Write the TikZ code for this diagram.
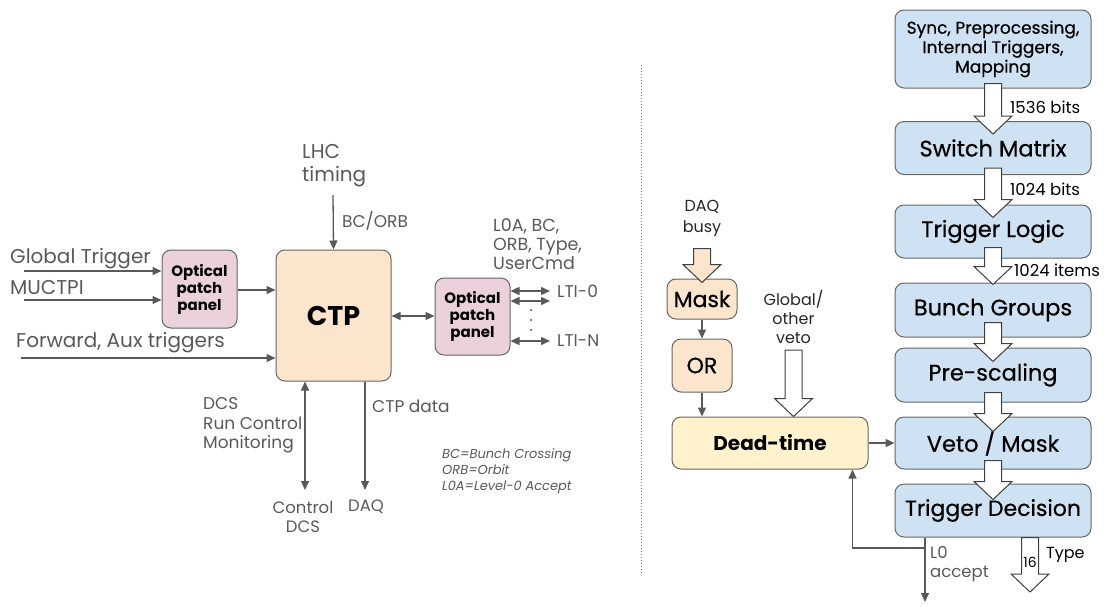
\documentclass[tikz,border=0pt]{standalone}
\usepackage{fontspec}
\setmainfont{Poppins}
\newfontfamily\medfont{Poppins}[FakeBold=0.6]
\usetikzlibrary{arrows.meta,calc}
\definecolor{peach}{HTML}{FCE5CD}
\definecolor{patch}{HTML}{EAD1DC}
\definecolor{stage}{HTML}{CFE2F3}
\definecolor{deadfill}{HTML}{FFF2CC}
\definecolor{edgegray}{HTML}{666666}
\definecolor{wiregray}{HTML}{595959}
\newcommand\fs[2]{\fontsize{#1}{#2}\selectfont}

\begin{document}
\begin{tikzpicture}[x=1pt,y=-1pt,
  wire/.style={draw=wiregray,line width=1.3pt},
  arr/.style={wire,-{Triangle[length=9pt,width=8pt]}},
  darr/.style={wire,{Triangle[length=9pt,width=8pt]}-{Triangle[length=9pt,width=8pt]}},
  box/.style={draw=edgegray,line width=1pt,rounded corners=9pt,align=center,inner sep=0pt},
  lbl/.style={text=wiregray,align=left,inner sep=0pt},
  fat/.style={draw=black!75,line width=1pt,fill=white,
    to path={let \p1=(\tikztostart),\p2=(\tikztotarget) in
      (\x1-8.5pt,\y1) -- (\x1+8.5pt,\y1) -- (\x1+8.5pt,\y2+18pt) -- (\x1+19pt,\y2+18pt)
      -- (\x1,\y2) -- (\x1-19pt,\y2+18pt) -- (\x1-8.5pt,\y2+18pt) -- cycle}}]

  \useasboundingbox (0,0) rectangle (1104,606);

  \node[box,fill=patch,minimum width=75,minimum height=78,font=\fs{15}{17}\bfseries] (opp1) at (199.5,289) {Optical\\patch\\panel};
  \node[box,fill=peach,minimum width=115,minimum height=131,font=\fs{27}{30}\bfseries] (ctp) at (333.5,315.5) {CTP};
  \node[box,fill=patch,minimum width=75,minimum height=77,font=\fs{15}{17}\bfseries] (opp2) at (472.5,316.5) {Optical\\patch\\panel};

  \node[lbl,anchor=base west,font=\fs{20}{24}] (gtl) at (10,263) {Global Trigger};
  \node[lbl,anchor=base west,font=\fs{20}{24}] (mul) at (10,294) {MUCTPI};
  \node[lbl,anchor=base west,font=\fs{20}{24}] (fwl) at (16,347) {Forward, Aux triggers};
  \node[lbl,anchor=west,font=\fs{20}{23}] (lhc) at (302,166) {LHC\\timing};
  \node[lbl,anchor=west,font=\fs{17}{19}] (bco) at (342,221) {BC/ORB};
  \node[lbl,anchor=west,font=\fs{17.5}{19}] (ltisig) at (493,244) {L0A, BC,\\ORB, Type,\\UserCmd};
  \node[lbl,anchor=west,font=\fs{17}{19}] (lti0) at (557,291) {LTI-0};
  \node[lbl,anchor=west,font=\fs{17}{19}] (ltin) at (557,341) {LTI-N};
  \node[lbl,anchor=west,font=\fs{17}{19.5}] (dcsl) at (203,425.5) {DCS\\Run Control\\Monitoring};
  \node[lbl,anchor=west,font=\fs{17}{19}] (ctpd) at (372,406) {CTP data};
  \node[lbl,align=center,font=\fs{16.5}{19}] (ctrl) at (303,516.5) {Control\\DCS};
  \node[lbl,anchor=west,font=\fs{16.5}{19}] (daq) at (348,507) {DAQ};
  \node[lbl,anchor=west,font=\fs{13}{16}\itshape] (legend) at (442,471) {BC=Bunch Crossing\\ORB=Orbit\\L0A=Level-0 Accept};

  \coordinate (gtin) at (24,271);
  \coordinate (muin) at (24,300);
  \coordinate (fwin) at (21,358);
  \coordinate (lhcin) at (333,195);
  \coordinate (lti0a) at (550,291);
  \coordinate (lti0b) at (550,301);
  \coordinate (ltina) at (550,341);
  \coordinate (dcsout) at (305,490);
  \coordinate (daqout) at (365,490);

  \draw[arr] (gtin) -- (gtin -| opp1.west);
  \draw[arr] (muin) -- (muin -| opp1.west);
  \draw[arr] (fwin) -- (fwin -| ctp.west);
  \draw[arr] (opp1.east |- 0,290) -- (ctp.west |- 0,290);
  \draw[arr] (lhcin) -- (ctp.north);
  \draw[darr] (ctp.east |- 0,316) -- (opp2.west |- 0,316);
  \draw[darr] (opp2.east |- lti0a) -- (lti0a);
  \draw[darr] (opp2.east |- lti0b) -- (lti0b);
  \draw[darr] (opp2.east |- ltina) -- (ltina);
  \foreach \y in {310,320,330}
    \fill[wiregray] (531,\y) circle (1.1pt);
  \draw[darr] (ctp.south -| dcsout) -- (dcsout);
  \draw[arr] (ctp.south -| daqout) -- (daqout);

  \draw[wiregray!80,line width=1pt,dash pattern=on 1pt off 2pt] (641,65) -- (641,575);

  \node[align=center,font=\fs{16}{21},text=black!85] (busy) at (702,218) {DAQ\\busy};
  \node[box,fill=peach,minimum width=70,minimum height=40,font=\fs{22}{24}\medfont] (mask) at (702,299) {Mask};
  \node[box,fill=peach,minimum width=60,minimum height=53,font=\fs{22}{24}\medfont] (or) at (702,365.5) {OR};
  \node[box,fill=deadfill,minimum width=196,minimum height=52,font=\fs{20}{24}\bfseries] (dead) at (770,443) {Dead-time};
  \node[align=center,font=\fs{16}{19},text=black!85] (gveto) at (793.5,317) {Global/\\other\\veto};

  \node[box,fill=stage,minimum width=196,minimum height=78,font=\fs{17}{19.5}\medfont] (sync) at (993,49) {Sync, Preprocessing,\\Internal Triggers,\\Mapping};
  \node[box,fill=stage,minimum width=196,minimum height=53,font=\fs{22.5}{24}\medfont] (switch) at (993,148) {Switch Matrix};
  \node[box,fill=stage,minimum width=196,minimum height=53,font=\fs{22.5}{24}\medfont] (logic) at (993,231.5) {Trigger Logic};
  \node[box,fill=stage,minimum width=196,minimum height=54,font=\fs{22.5}{24}\medfont] (bunch) at (993,310) {Bunch Groups};
  \node[box,fill=stage,minimum width=196,minimum height=54,font=\fs{22.5}{24}\medfont] (pre) at (993,375) {Pre-scaling};
  \node[box,fill=stage,minimum width=196,minimum height=52,font=\fs{22.5}{24}\medfont] (veto) at (993,443) {Veto / Mask};
  \node[box,fill=stage,minimum width=196,minimum height=53,font=\fs{22}{24}\medfont] (td) at (993,510.5) {Trigger Decision};

  \node[anchor=west,inner sep=0pt,font=\fs{16.5}{17}] (b1536) at (1010,107) {1536 bits};
  \node[anchor=west,inner sep=0pt,font=\fs{16.5}{17}] (b1024) at (1010,189) {1024 bits};
  \node[anchor=west,inner sep=0pt,font=\fs{16.5}{17}] (i1024) at (1014,270) {1024 items};

  \coordinate (l0out) at (925,602);
  \coordinate (split) at (925,548);
  \coordinate (typeout) at (1030,592);

  \draw[arr,line width=1.1pt] (mask) -- (or);
  \draw[arr,line width=1.1pt] (or) -- (or |- dead.north);
  \draw[arr,line width=1.1pt] (dead) -- (veto);
  \draw[arr,line width=1.1pt] (td.south -| l0out) -- (l0out);
  \draw[arr,line width=1.1pt] (split) -| ([xshift=-16pt]dead.south east);

  \draw[fat,fill=peach] ([yshift=-9pt]busy.south) to ([yshift=-4pt]mask.north);
  \draw[fat] ([yshift=-3pt]gveto.south) to (gveto |- dead.north);
  \draw[fat] ([yshift=5pt]sync.south) to ([yshift=-13pt]switch.north);
  \draw[fat] ([yshift=7pt]switch.south) to ([yshift=-13pt]logic.north);
  \draw[fat] ([yshift=11pt]logic.south) to ([yshift=-2pt]bunch.north);
  \draw[fat] ([yshift=15pt]bunch.south) to ([yshift=-14pt]pre.north);
  \draw[fat] ([yshift=10pt]pre.south) to ([yshift=-15pt]veto.north);
  \draw[fat] ([yshift=9pt]veto.south) to ([yshift=-16pt]td.north);
  \draw[fat] (td.south -| typeout) to (typeout);

  \node[lbl,anchor=west,font=\fs{16.5}{19}] (l0acc) at (930,564.5) {L0\\accept};
  \node[inner sep=0pt,font=\fs{14}{15}] (sixteen) at (1030,562) {16};
  \node[anchor=west,inner sep=0pt,font=\fs{16}{17}] (typel) at (1046,555) {Type};
\end{tikzpicture}
\end{document}
